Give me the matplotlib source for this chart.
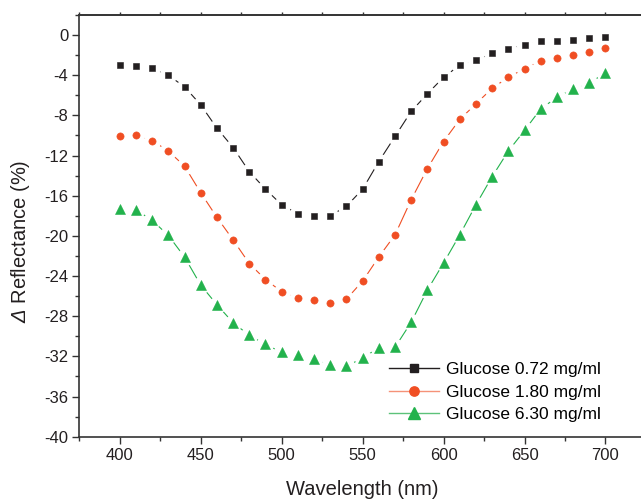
import matplotlib.pyplot as plt
from matplotlib.lines import Line2D
from matplotlib.ticker import MultipleLocator
import numpy as np

plt.rcParams['font.family'] = ['Liberation Sans', 'DejaVu Sans']
plt.rcParams['axes.unicode_minus'] = False
plt.rcParams['mathtext.fontset'] = 'custom'
plt.rcParams['mathtext.rm'] = 'Liberation Sans'
# italic capital delta: mathtext keeps Greek capitals upright in \mathit, so go through \mathsf
plt.rcParams['mathtext.sf'] = 'Liberation Sans:italic'

# wavelength (nm)
wavelength = np.arange(400, 701, 10)

# delta reflectance (%)
glu_072 = [-3.0, -3.1, -3.3, -4.0, -5.15, -6.95, -9.27, -11.2, -13.6, -15.35,
           -16.9, -17.8, -18.0, -18.0, -17.05, -15.35, -12.6, -10.1, -7.6, -5.85,
           -4.2, -3.0, -2.5, -1.8, -1.4, -0.97, -0.57, -0.57, -0.47, -0.3, -0.2]
glu_180 = [-10.1, -10.0, -10.5, -11.55, -13.05, -15.7, -18.15, -20.4, -22.75, -24.35,
           -25.55, -26.15, -26.4, -26.7, -26.3, -24.5, -22.1, -19.9, -16.4, -13.3,
           -10.6, -8.4, -6.85, -5.3, -4.2, -3.35, -2.55, -2.3, -2.0, -1.7, -1.33]
glu_630 = [-17.3, -17.4, -18.45, -19.95, -22.1, -24.9, -26.85, -28.65, -29.9, -30.8,
           -31.6, -31.9, -32.25, -32.85, -33.0, -32.15, -31.15, -31.1, -28.6, -25.4,
           -22.7, -19.9, -16.9, -14.1, -11.55, -9.5, -7.35, -6.2, -5.35, -4.75, -3.8]

labels = ['Glucose 0.72 mg/ml', 'Glucose 1.80 mg/ml', 'Glucose 6.30 mg/ml']
colors = ['#231f20', '#f04e23', '#22b24c']
legend_line_colors = ['#231f20', '#f59278', '#5cc27a']
markers = ['s', 'o', '^']
msizes = [4.6, 5.2, 7.6]
series = [glu_072, glu_180, glu_630]

fig = plt.figure(figsize=(6.41, 5.0), dpi=100)
ax = fig.add_axes([0.1237, 0.1266, 0.884, 0.8434])

# connecting lines, then white gaps around the symbols, then the symbols
for y, c in zip(series, colors):
    ax.plot(wavelength, y, color=c, lw=0.8, zorder=2)
for y in series:
    ax.plot(wavelength, y, ls='none', marker='o', ms=11.5, mfc='white', mec='white', zorder=3)
for y, c, m, s in zip(series, colors, markers, msizes):
    ax.plot(wavelength, y, ls='none', marker=m, ms=s, mfc=c, mec=c, mew=0.4, zorder=4)

ax.set_xlim(375, 725)
ax.set_ylim(-40, 2)
ax.xaxis.set_major_locator(MultipleLocator(50))
ax.xaxis.set_minor_locator(MultipleLocator(25))
ax.yaxis.set_major_locator(MultipleLocator(4))
ax.yaxis.set_minor_locator(MultipleLocator(2))

ink = '#333333'
for side in ['left', 'bottom', 'top']:
    ax.spines[side].set_color(ink)
    ax.spines[side].set_linewidth(1.2)
ax.spines['right'].set_visible(False)

ax.tick_params(which='major', direction='out', length=5, width=1, colors=ink,
               labelsize=12, labelcolor='#231f20', pad=3)
ax.tick_params(which='minor', direction='out', length=3, width=1, colors=ink)
ax.tick_params(top=False, right=False)

top = ax.secondary_xaxis('top')
top.xaxis.set_major_locator(MultipleLocator(50))
top.xaxis.set_minor_locator(MultipleLocator(25))
top.tick_params(which='both', direction='out', length=2.5, width=1, colors=ink, labeltop=False)
top.spines['top'].set_color(ink)
top.spines['top'].set_linewidth(1.2)

ax.set_xlabel('Wavelength (nm)', fontsize=14.5, color='#231f20')
ax.set_ylabel(r'$\mathsf{\Delta}$ Reflectance (%)', fontsize=14.5, color='#231f20')
ax.xaxis.set_label_coords(0.5, -0.103)
ax.yaxis.set_label_coords(-0.083, 0.464)

handles = [Line2D([], [], color=lc, lw=1, marker=m, ms=s + 1.5, mfc=c, mec=c)
           for lc, c, m, s in zip(legend_line_colors, colors, markers, msizes)]
fig.legend(handles, labels, loc='upper left', bbox_to_anchor=(0.607, 0.276),
           frameon=False, fontsize=12.5, handlelength=2.9, handletextpad=0.35,
           labelspacing=0.42, borderpad=0, borderaxespad=0)

fig.savefig('out.png', dpi=100)
